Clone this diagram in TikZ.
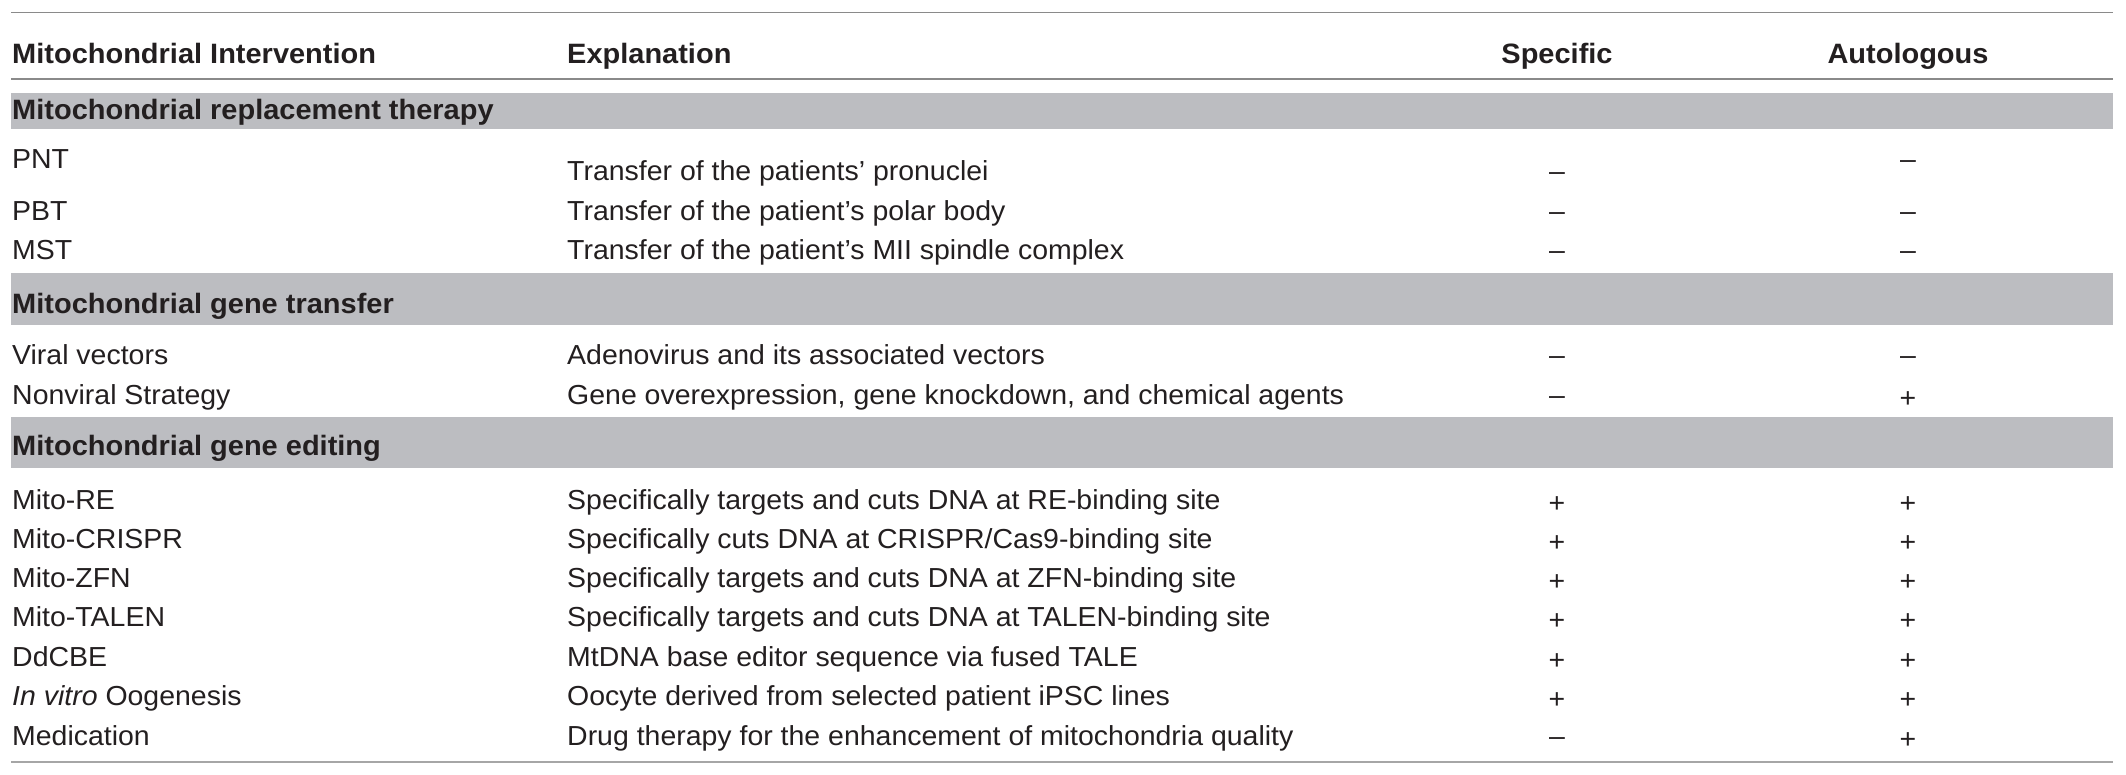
\documentclass[tikz,border=0pt]{standalone}
\usepackage{fontspec}
\setmainfont{Liberation Sans}[FakeStretch=1.035]
\definecolor{ink}{HTML}{231F20}
\definecolor{bandgray}{HTML}{BCBDC1}
\definecolor{rulegray}{HTML}{8A8A8A}
\definecolor{rulelight}{HTML}{A6A6A6}
\begin{document}
\begin{tikzpicture}[x=1pt,y=-1pt,
  cell/.style={inner sep=0pt, anchor=base west, text=ink, font=\fontsize{27.5}{30}\selectfont},
  head/.style={inner sep=0pt, anchor=base west, text=ink, font=\fontsize{28}{30}\selectfont\bfseries},
  headc/.style={head, anchor=base},
  symb/.style={inner sep=0pt, anchor=base, text=ink, font=\fontsize{27.5}{30}\selectfont},
  band/.style={fill=bandgray, draw=none},
  thinrule/.style={draw=rulegray, line width=1.3pt},
  endrule/.style={draw=rulelight, line width=2.2pt}
]
\useasboundingbox (0,0) rectangle (2126,774);
% bands and rules
\path[band] (11,92.7) rectangle (2113,129.3);
\path[band] (11,272.7) rectangle (2113,325);
\path[band] (11,416.7) rectangle (2113,468.3);
\path[thinrule] (11,12.3) -- (2113,12.3);
\path[thinrule] (11,79) -- (2113,79);
\path[endrule] (11,762) -- (2113,762);
% header
\node[head]  (h1) at (12,63.3)   {Mitochondrial Intervention};
\node[head]  (h2) at (567,63.3)  {Explanation};
\node[headc] (h3) at (1557,63.3) {Specific};
\node[headc] (h4) at (1908,63.3) {Autologous};
% group 1
\node[head] (g1) at (12,119) {Mitochondrial replacement therapy};
\node[cell] (a1) at (12,168.7) {PNT};
\node[cell] (b1) at (567,180)  {Transfer of the patients’ pronuclei};
\node[symb] (s1) at (1557,180) {–};
\node[symb] (t1) at (1908,168.7) {–};
\node[cell] (a2) at (12,220) {PBT};
\node[cell] (b2) at (567,220) {Transfer of the patient’s polar body};
\node[symb] (s2) at (1557,220) {–};
\node[symb] (t2) at (1908,220) {–};
\node[cell] (a3) at (12,259) {MST};
\node[cell] (b3) at (567,259) {Transfer of the patient’s MII spindle complex};
\node[symb] (s3) at (1557,259) {–};
\node[symb] (t3) at (1908,259) {–};
% group 2
\node[head] (g2) at (12,313) {Mitochondrial gene transfer};
\node[cell] (a4) at (12,364) {Viral vectors};
\node[cell] (b4) at (567,364) {Adenovirus and its associated vectors};
\node[symb] (s4) at (1557,364) {–};
\node[symb] (t4) at (1908,364) {–};
\node[cell] (a5) at (12,404) {Nonviral Strategy};
\node[cell] (b5) at (567,404) {Gene overexpression, gene knockdown, and chemical agents};
\node[symb] (s5) at (1557,404) {–};
\node[symb] (t5) at (1908,407) {+};
% group 3
\node[head] (g3) at (12,455) {Mitochondrial gene editing};
\node[cell] (a6) at (12,509) {Mito-RE};
\node[cell] (b6) at (567,509) {Specifically targets and cuts DNA at RE-binding site};
\node[symb] (s6) at (1557,512) {+};
\node[symb] (t6) at (1908,512) {+};
\node[cell] (a7) at (12,548.3) {Mito-CRISPR};
\node[cell] (b7) at (567,548.3) {Specifically cuts DNA at CRISPR/Cas9-binding site};
\node[symb] (s7) at (1557,551.3) {+};
\node[symb] (t7) at (1908,551.3) {+};
\node[cell] (a8) at (12,587.5) {Mito-ZFN};
\node[cell] (b8) at (567,587.5) {Specifically targets and cuts DNA at ZFN-binding site};
\node[symb] (s8) at (1557,590.5) {+};
\node[symb] (t8) at (1908,590.5) {+};
\node[cell] (a9) at (12,626.7) {Mito-TALEN};
\node[cell] (b9) at (567,626.7) {Specifically targets and cuts DNA at TALEN-binding site};
\node[symb] (s9) at (1557,629.7) {+};
\node[symb] (t9) at (1908,629.7) {+};
\node[cell] (a10) at (12,666) {DdCBE};
\node[cell] (b10) at (567,666) {MtDNA base editor sequence via fused TALE};
\node[symb] (s10) at (1557,669) {+};
\node[symb] (t10) at (1908,669) {+};
\node[cell] (a11) at (12,705.3) {\textit{In vitro} Oogenesis};
\node[cell] (b11) at (567,705.3) {Oocyte derived from selected patient iPSC lines};
\node[symb] (s11) at (1557,708.3) {+};
\node[symb] (t11) at (1908,708.3) {+};
\node[cell] (a12) at (12,745) {Medication};
\node[cell] (b12) at (567,745) {Drug therapy for the enhancement of mitochondria quality};
\node[symb] (s12) at (1557,745) {–};
\node[symb] (t12) at (1908,748) {+};
\end{tikzpicture}
\end{document}
